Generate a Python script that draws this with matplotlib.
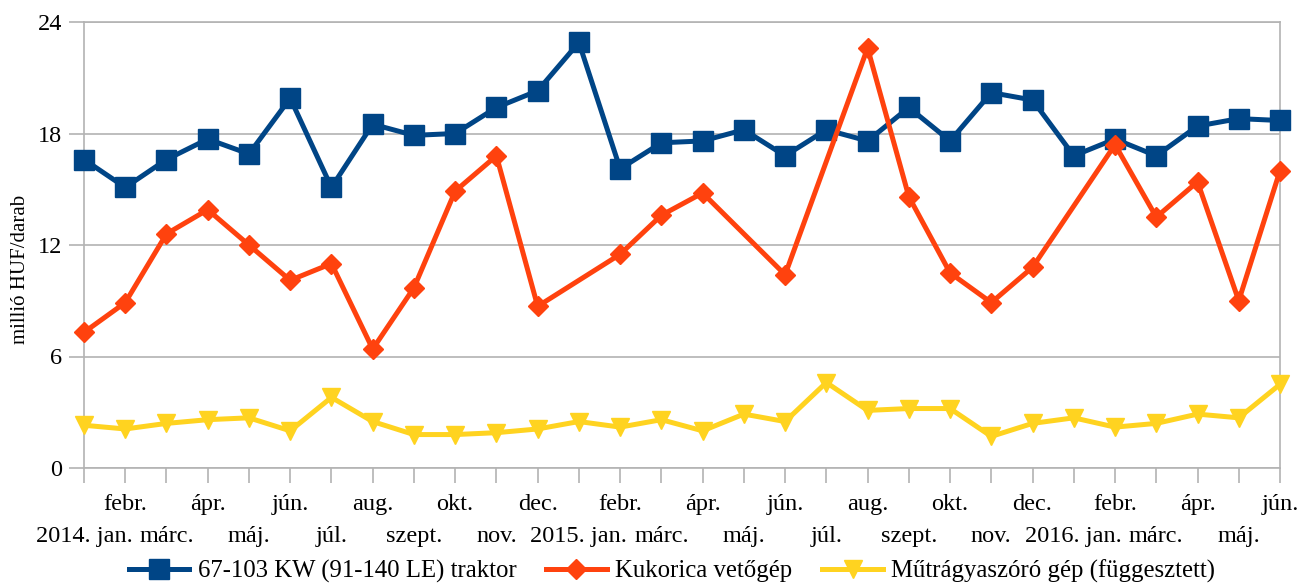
import numpy as np
import matplotlib
matplotlib.use("Agg")
import matplotlib.pyplot as plt

plt.rcParams['font.family'] = 'serif'
plt.rcParams['font.serif'] = ['Liberation Serif', 'DejaVu Serif']

# Hónapok (2014. jan. - 2016. jún.)
months = ["2014. jan.", "febr.", "márc.", "ápr.", "máj.", "jún.", "júl.", "aug.",
          "szept.", "okt.", "nov.", "dec.",
          "2015. jan.", "febr.", "márc.", "ápr.", "máj.", "jún.", "júl.", "aug.",
          "szept.", "okt.", "nov.", "dec.",
          "2016. jan.", "febr.", "márc.", "ápr.", "máj.", "jún."]

# Árak, millió HUF/darab
traktor = [16.6, 15.1, 16.6, 17.7, 16.9, 19.9, 15.1, 18.5, 17.9, 18.0,
           19.4, 20.3, 22.9, 16.1, 17.5, 17.6, 18.2, 16.8, 18.2, 17.6,
           19.4, 17.6, 20.2, 19.8, 16.8, 17.7, 16.8, 18.4, 18.8, 18.7]
vetogep = [7.3, 8.9, 12.6, 13.9, 12.0, 10.1, 11.0, 6.4, 9.7, 14.9,
           16.8, 8.7, None, 11.5, 13.6, 14.8, None, 10.4, None, 22.6,
           14.6, 10.5, 8.9, 10.8, None, 17.4, 13.5, 15.4, 9.0, 16.0]
mutragya = [2.3, 2.1, 2.4, 2.6, 2.7, 2.0, 3.8, 2.5, 1.8, 1.8,
            1.9, 2.1, 2.5, 2.2, 2.6, 2.0, 2.9, 2.5, 4.6, 3.1,
            3.2, 3.2, 1.7, 2.4, 2.7, 2.2, 2.4, 2.9, 2.7, 4.5]

series_names = ["67-103 KW (91-140 LE) traktor", "Kukorica vetőgép",
                "Műtrágyaszóró gép (függesztett)"]
colors = ["#004586", "#ff420e", "#ffd320"]

x = np.arange(len(months))

fig = plt.figure(figsize=(13, 5.86), dpi=100)
ax = fig.add_axes([84/1300, 1 - 468/586, 1196/1300, 446/586])

ax.plot(x, traktor, color=colors[0], lw=3.6, marker='s', ms=14,
        clip_on=False, zorder=3, label=series_names[0])
# a hiányzó hónapokat átugorja a vonal
xv = [i for i, v in zip(x, vetogep) if v is not None]
yv = [v for v in vetogep if v is not None]
ax.plot(xv, yv, color=colors[1], lw=3.6, marker='D', ms=10.5,
        clip_on=False, zorder=4, label=series_names[1])
ax.plot(x, mutragya, color=colors[2], lw=3.6, marker='v', ms=13,
        clip_on=False, zorder=5, label=series_names[2])

ax.set_xlim(0, len(months) - 1)
ax.set_ylim(0, 24)
ax.set_yticks([0, 6, 12, 18, 24])
ax.grid(True, axis='y', color='#b3b3b3', lw=1.2)
ax.set_axisbelow(True)
for s in ax.spines.values():
    s.set_color('#b3b3b3')
    s.set_linewidth(1.2)

# két sorban a hónapok
ax.set_xticks(x[::2])
ax.set_xticklabels(months[::2])
ax.set_xticks(x[1::2], minor=True)
ax.set_xticklabels(months[1::2], minor=True)
ax.tick_params(axis='x', which='both', length=11, width=1.2, color='#b3b3b3',
               labelsize=17.5)
ax.tick_params(axis='x', which='major', pad=31)
ax.tick_params(axis='x', which='minor', pad=8)
ax.tick_params(axis='y', length=11, width=1.2, color='#b3b3b3', labelsize=17.5, pad=5)

ax.set_ylabel('millió HUF/darab', fontsize=15)
ax.yaxis.set_label_coords(-0.045, 0.446)

fig.legend(loc='center', bbox_to_anchor=(672/1300, 1 - 571/586), ncol=3,
           frameon=False, fontsize=17.8, handlelength=2.45, handletextpad=0.35,
           columnspacing=1.2)

fig.savefig('out.png', dpi=100)
